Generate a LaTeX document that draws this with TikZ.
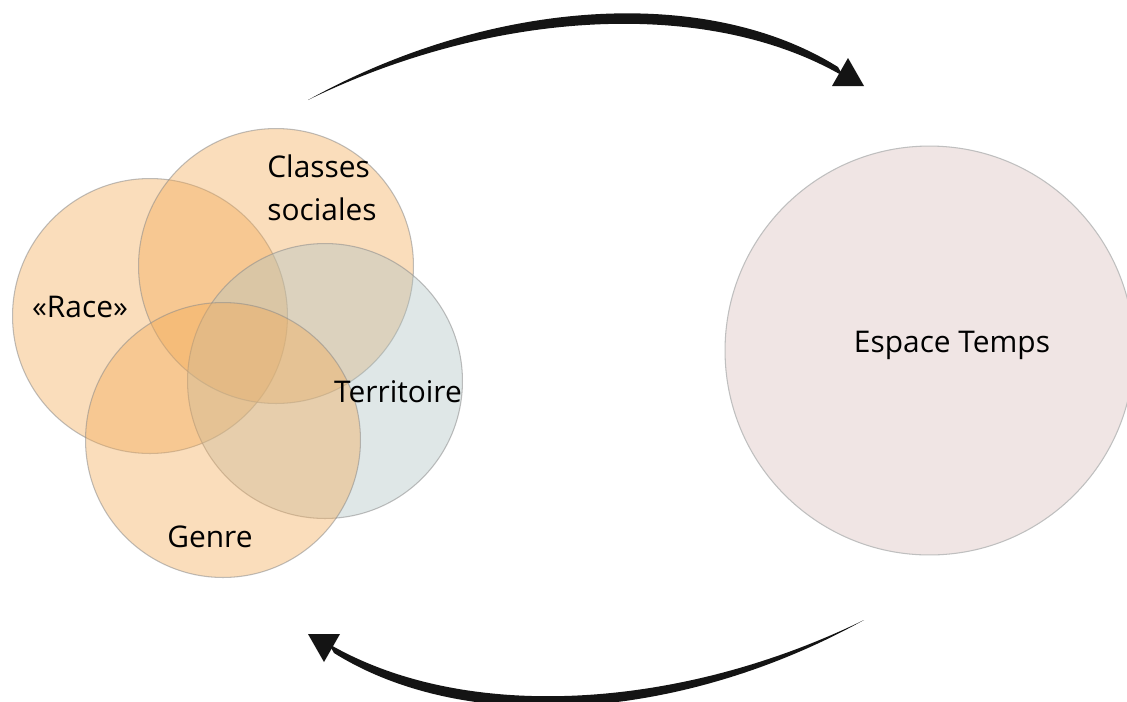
\documentclass[tikz,border=0pt]{standalone}
\usepackage{fontspec}
\setmainfont{Open Sans}
\usepackage{xcolor}
\usepackage{tikz}

\definecolor{peach}{RGB}{243,170,85}
\definecolor{slate}{RGB}{175,195,195}
\definecolor{dusk}{RGB}{240,229,228}
\definecolor{rim}{RGB}{140,140,140}

\begin{document}
\begin{tikzpicture}[x=0.02cm, y=-0.02cm]
    \tikzstyle{bubble}=[circle,draw=rim,draw opacity=0.55,line width=0.6pt,
      fill opacity=0.4,minimum size=5.5cm,inner sep=0pt]
    \tikzstyle{word}=[font=\fontsize{17}{24}\selectfont,text=black,inner sep=0pt]
    \tikzstyle{swoosh}=[fill=black!92]
    \fill[white] (0,0) rectangle (1127,701);
    \useasboundingbox (0,0) rectangle (1127,701);
    % the four circles
    \node[bubble,fill=peach] (race) at (150,316) {};
    \node[bubble,fill=peach] (classes) at (276,266) {};
    \node[bubble,fill=slate] (terr) at (325,381) {};
    \node[bubble,fill=peach] (genre) at (223,440) {};
    \node[bubble,draw=black!25,draw opacity=1,fill=dusk,fill opacity=1,
      minimum size=8.18cm] (espace) at (929.5,350.5) {};
    % labels
    \node[word,anchor=base west,align=left] (classesT) at (267,220) {Classes\\sociales};
    \node[word,anchor=base] (raceT) at (80,317) {«Race»};
    \node[word,anchor=base] (terrT) at (398,402) {Territoire};
    \node[word,anchor=base] (genreT) at (210,547) {Genre};
    \node[word,anchor=base] (espaceT) at (952,352) {Espace Temps};
    % arrows
    \coordinate (aTail) at (308,100);
    \coordinate (aTip) at (864,86);
    \coordinate (bTail) at (864,620);
    \coordinate (bTip) at (308,634);
    \fill[swoosh] (aTail) .. controls (490,-1) and (705,-16) .. (838,67)
      -- (843,76) .. controls (705,-4) and (490,11) .. (aTail) -- cycle;
    \fill[swoosh] (aTip) -- (848,58) -- (832,86) -- cycle;
    \fill[swoosh] (bTail) .. controls (682,721) and (467,736) .. (334,653)
      -- (329,644) .. controls (467,724) and (682,709) .. (bTail) -- cycle;
    \fill[swoosh] (bTip) -- (324,662) -- (340,634) -- cycle;
\end{tikzpicture}
\end{document}
